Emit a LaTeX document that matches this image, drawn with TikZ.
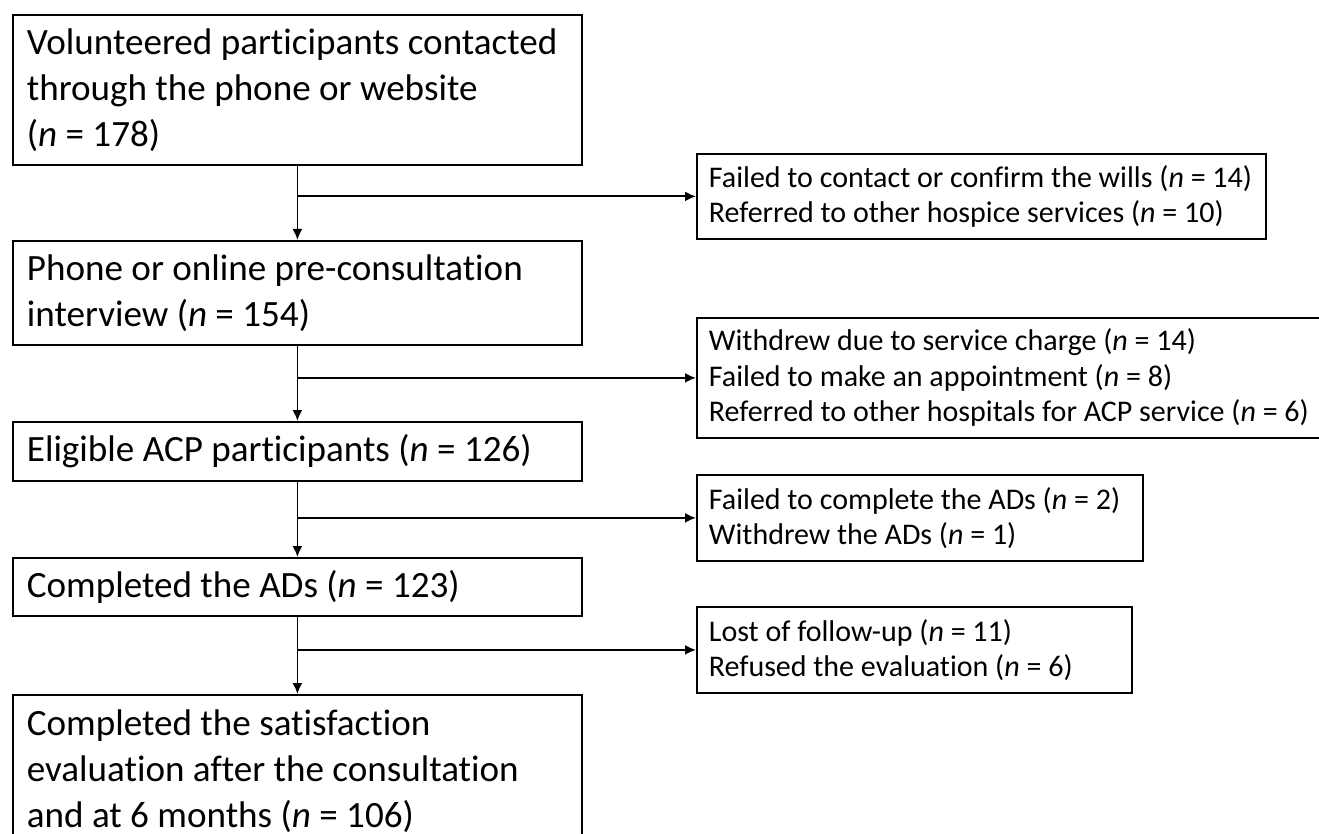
\documentclass[tikz,border=0pt]{standalone}
\usepackage{fontspec}
\setmainfont{Carlito}[Ligatures={NoCommon}]
\usetikzlibrary{arrows.meta}

\begin{document}
\begin{tikzpicture}[x=1pt,y=-1pt,
	box/.style={draw,line width=1.8pt,anchor=north west,align=flush left,inner ysep=0pt},
	mainbox/.style={box,font=\fontsize{37.1}{46}\selectfont,inner xsep=14pt,
	text width=541pt,minimum height=#1},
	sidebox/.style={box,font=\fontsize{30}{35.5}\selectfont,inner xsep=12pt},
	flow/.style={line width=1.8pt,-{Latex[length=11pt,width=10pt]}}]
\useasboundingbox (0,0) rectangle (1319,834);
% main column
\node[mainbox=150pt] (vol) at (12,14) {Volunteered participants contacted\\
	through the phone or website\\
	(\textit{n} = 178)};
\node[mainbox=104pt] (phone) at (12,240) {Phone or online pre-consultation\\
	interview (\textit{n} = 154)};
\node[mainbox=59pt] (elig) at (12,421) {Eligible ACP participants (\textit{n} = 126)};
\node[mainbox=58pt] (adcomp) at (12,557) {Completed the ADs (\textit{n} = 123)};
\node[mainbox=152pt] (satis) at (12,694) {Completed the satisfaction\\
	evaluation after the consultation\\
	and at 6 months (\textit{n} = 106)};
% exclusions
\node[sidebox,text width=545pt,minimum height=85pt] (excl1) at (696,153)
	{Failed to contact or confirm the wills (\textit{n} = 14)\\
	Referred to other hospice services (\textit{n} = 10)};
\node[sidebox,text width=602pt,minimum height=120pt] (excl2) at (696,317)
	{Withdrew due to service charge (\textit{n} = 14)\\
	Failed to make an appointment (\textit{n} = 8)\\
	Referred to other hospitals for ACP service (\textit{n} = 6)};
\node[sidebox,text width=422pt,minimum height=86pt] (excl3) at (696,474)
	{Failed to complete the ADs (\textit{n} = 2)\\
	Withdrew the ADs (\textit{n} = 1)};
\node[sidebox,text width=411pt,minimum height=86pt] (excl4) at (696,606)
	{Lost of follow-up (\textit{n} = 11)\\
	Refused the evaluation (\textit{n} = 6)};
\draw[flow] (vol.south) -- (phone.north);
\draw[flow] (phone.south) -- (elig.north);
\draw[flow] (elig.south) -- (adcomp.north);
\draw[flow] (adcomp.south) -- (satis.north);
\draw[flow] (vol.south |- excl1.west) -- (excl1.west);
\draw[flow] (phone.south |- excl2.west) -- (excl2.west);
\draw[flow] (elig.south |- excl3.west) -- (excl3.west);
\draw[flow] (adcomp.south |- excl4.west) -- (excl4.west);
\end{tikzpicture}
\end{document}
